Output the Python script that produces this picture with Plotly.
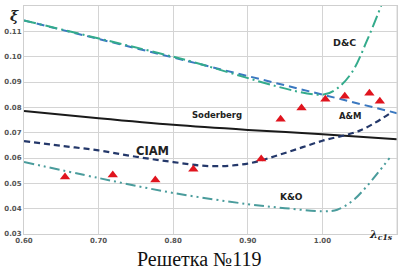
import plotly.graph_objects as go

# Soderberg
sod_x = [0.60, 0.70, 0.80, 0.90, 1.00, 1.10]
sod_y = [0.0786, 0.0757, 0.0731, 0.0711, 0.0694, 0.0674]

# A&M
am_x = [0.60, 1.00, 1.10]
am_y = [0.1143, 0.0850, 0.0777]

# D&C
dc_x = [0.60, 0.80, 1.00, 1.02, 1.04, 1.06, 1.08]
dc_y = [0.1143, 0.1000, 0.0850, 0.0875, 0.0940, 0.1065, 0.1210]

# CIAM
ciam_x = [0.60, 0.65, 0.70, 0.75, 0.80, 0.85, 0.90, 0.95, 1.00, 1.05, 1.09]
ciam_y = [0.0667, 0.0648, 0.0630, 0.0605, 0.0584, 0.0568, 0.0578, 0.0620, 0.0668, 0.0708, 0.0775]

# K&O
ko_x = [0.60, 0.70, 0.80, 0.90, 0.95, 1.00, 1.02, 1.04, 1.06, 1.09]
ko_y = [0.0584, 0.0521, 0.0462, 0.0418, 0.0402, 0.0390, 0.0396, 0.0430, 0.0490, 0.0600]

# Experiment
exp_x = [0.655, 0.719, 0.776, 0.827, 0.918, 0.944, 0.972, 1.004, 1.030, 1.063, 1.077]
exp_y = [0.0525, 0.0533, 0.0513, 0.0556, 0.0596, 0.0753, 0.0797, 0.0832, 0.0844, 0.0856, 0.0824]

y_ticks = [0.03, 0.04, 0.05, 0.06, 0.07, 0.08, 0.09, 0.10, 0.11]
x_ticks = [0.60, 0.70, 0.80, 0.90, 1.00]

fig = go.Figure()
fig.add_trace(go.Scatter(x=sod_x, y=sod_y, mode="lines", line=dict(color="#1a1a1a", width=2), line_shape="spline"))
fig.add_trace(go.Scatter(x=am_x, y=am_y, mode="lines", line=dict(color="#3a78c0", width=2, dash="8px,5px")))
fig.add_trace(go.Scatter(x=dc_x, y=dc_y, mode="lines", line=dict(color="#34ab8c", width=2, dash="12px,4px,2px,4px"), line_shape="spline"))
fig.add_trace(go.Scatter(x=ciam_x, y=ciam_y, mode="lines", line=dict(color="#24386a", width=2.2, dash="6px,4px"), line_shape="spline"))
fig.add_trace(go.Scatter(x=ko_x, y=ko_y, mode="lines", line=dict(color="#4a9c9c", width=2, dash="10px,4px,2px,4px,2px,4px"), line_shape="spline"))
fig.add_trace(go.Scatter(x=exp_x, y=exp_y, mode="markers", marker=dict(symbol="triangle-up", size=9, color="#e0141e")))

def f(size):
    return dict(family="DejaVu Sans", size=size, color="#222", weight="bold")

ann = [
    dict(x=1.030, y=0.1055, text="D&C", font=f(9.5)),
    dict(x=0.859, y=0.0768, text="Soderberg", font=f(8.5)),
    dict(x=1.037, y=0.0765, text="A&M", font=f(8.5)),
    dict(x=0.772, y=0.0627, text="CIAM", font=f(11.5)),
    dict(x=0.959, y=0.0446, text="K&O", font=f(9)),
]
for a in ann:
    fig.add_annotation(xref="x", yref="y", showarrow=False, **a)

fig.add_annotation(xref="paper", yref="paper", x=-0.043, y=1.0, text="<i>ξ</i>", showarrow=False,
                   font=dict(family="DejaVu Serif", size=14, color="#222", weight="bold"))
fig.add_annotation(xref="x", yref="paper", x=1.078, y=-0.045, text="<i>λ<sub>c1s</sub></i>", showarrow=False,
                   font=dict(family="DejaVu Serif", size=11, color="#222", weight="bold"))
fig.add_annotation(xref="paper", yref="paper", x=0.47, y=-0.166, yanchor="bottom", text="Решетка №119", showarrow=False,
                   font=dict(family="Liberation Serif", size=20, color="#111"))

fig.update_layout(
    width=401, height=272,
    margin=dict(l=24, r=4, t=6, b=38),
    paper_bgcolor="white", plot_bgcolor="white",
    showlegend=False,
)
fig.update_xaxes(range=[0.6, 1.1], tickvals=x_ticks, ticktext=["%.2f" % v for v in x_ticks],
                 showgrid=True, gridcolor="#d4d4d4", gridwidth=1, showline=True, linecolor="#cfcfcf", mirror=True,
                 zeroline=False, ticks="", tickfont=dict(family="DejaVu Sans", size=7, color="#555", weight="bold"),
                 automargin=False)
fig.add_vline(x=1.1, line=dict(color="#d4d4d4", width=1))
fig.update_yaxes(range=[0.03, 0.12], tickvals=y_ticks, ticktext=["%.2f" % v for v in y_ticks],
                 showgrid=True, gridcolor="#d4d4d4", gridwidth=1, showline=True, linecolor="#cfcfcf", mirror=True,
                 zeroline=False, ticks="", tickfont=dict(family="DejaVu Sans", size=7, color="#555", weight="bold"),
                 automargin=False)

fig.write_html("out.html", config={"displayModeBar": False},
               post_script="document.body.style.margin='0';document.body.style.overflow='hidden';")
